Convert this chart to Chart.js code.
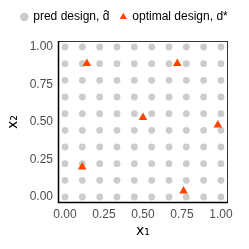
<!DOCTYPE html>
<html>
<head>
<meta charset="utf-8">
<script src="https://cdn.jsdelivr.net/npm/chart.js@4"></script>
<style>
  html, body { margin: 0; padding: 0; background: #fff; }
  #wrap { width: 249px; height: 249px; }
</style>
</head>
<body>
<div id="wrap"><canvas id="chart" width="249" height="249"></canvas></div>
<script>
// grid of candidate points (10 x 10, step 1/9)
const gridValues = [0, 1/9, 2/9, 3/9, 4/9, 5/9, 6/9, 7/9, 8/9, 1];
// optimal design points
const optX = [0.14, 0.72, 0.50, 0.98, 0.11, 0.76];
const optY = [0.89, 0.89, 0.53, 0.48, 0.20, 0.04];
const tickValues = [0, 0.25, 0.5, 0.75, 1];

const predPoints = [];
gridValues.forEach(function (gx) {
    gridValues.forEach(function (gy) {
        predPoints.push({ x: gx, y: gy });
    });
});
const optPoints = optX.map(function (x, i) { return { x: x, y: optY[i] }; });

const legendHeight = {
    id: 'legendHeight',
    beforeInit(chart) {
        const fit = chart.legend.fit;
        chart.legend.fit = function () {
            fit.bind(chart.legend)();
            this.height = 41;
        };
    }
};

const panelBorder = {
    id: 'panelBorder',
    afterDraw(chart) {
        const a = chart.chartArea;
        const c = chart.ctx;
        c.save();
        c.strokeStyle = '#333333';
        c.lineWidth = 1;
        c.strokeRect(a.left + 0.5, a.top + 0.5, a.right - a.left - 1, a.bottom - a.top - 1);
        c.strokeStyle = '#000000';
        c.lineWidth = 1.5;
        c.beginPath();
        c.moveTo(a.left + 0.5, a.top);
        c.lineTo(a.left + 0.5, a.bottom - 0.5);
        c.lineTo(a.right, a.bottom - 0.5);
        c.stroke();
        c.restore();
    }
};

function fixTicks(scale) {
    scale.ticks = tickValues.map(function (v) { return { value: v }; });
}

new Chart(document.getElementById('chart'), {
    type: 'scatter',
    data: {
        datasets: [{
            label: 'pred design, d\u0302',
            data: predPoints,
            order: 2,
            pointStyle: 'circle',
            pointRadius: 3.4,
            backgroundColor: '#cccccc',
            borderWidth: 0
        }, {
            label: 'optimal design, d*',
            data: optPoints,
            order: 1,
            pointStyle: 'triangle',
            pointRadius: 5,
            backgroundColor: '#ff4500',
            borderColor: '#ff4500',
            borderWidth: 0
        }]
    },
    options: {
        responsive: false,
        animation: false,
        clip: false,
        layout: { padding: 0 },
        plugins: {
            tooltip: { enabled: false },
            legend: {
                position: 'top',
                labels: {
                    usePointStyle: true,
                    boxWidth: 6,
                    boxHeight: 6,
                    padding: 11,
                    color: '#000',
                    font: { family: 'Liberation Sans', size: 12 },
                    sort: function (a, b) { return a.datasetIndex - b.datasetIndex; }
                }
            }
        },
        scales: {
            x: {
                min: -0.045,
                max: 1.045,
                afterBuildTicks: fixTicks,
                afterFit(scale) { scale.height = 46; },
                grid: { display: false, drawTicks: false },
                border: { display: false },
                ticks: {
                    padding: 4,
                    color: '#4d4d4d',
                    font: { family: 'Liberation Sans', size: 12 },
                    callback: function (v) { return v.toFixed(2); }
                },
                title: {
                    display: true,
                    text: 'x\u2081',
                    color: '#000',
                    padding: { top: 0, bottom: 9 },
                    font: { family: 'DejaVu Sans', size: 14 }
                }
            },
            y: {
                min: -0.04,
                max: 1.04,
                afterBuildTicks: fixTicks,
                afterFit(scale) { scale.width = 58; },
                grid: { display: false, drawTicks: false },
                border: { display: false },
                ticks: {
                    padding: 5,
                    color: '#4d4d4d',
                    font: { family: 'Liberation Sans', size: 12 },
                    callback: function (v) { return v.toFixed(2); }
                },
                title: {
                    display: true,
                    text: 'x\u2082',
                    color: '#000',
                    padding: { top: 5, bottom: 0 },
                    font: { family: 'DejaVu Sans', size: 14 }
                }
            },
            yRight: {
                position: 'right',
                afterFit(scale) { scale.width = 21; },
                grid: { display: false, drawTicks: false },
                border: { display: false },
                ticks: { display: false }
            }
        }
    },
    plugins: [legendHeight, panelBorder]
});
</script>
</body>
</html>
